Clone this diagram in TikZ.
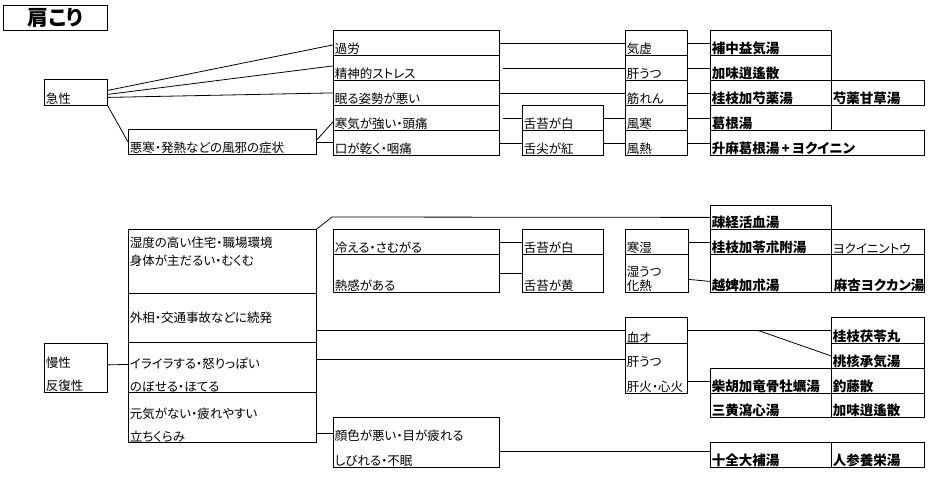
\documentclass[tikz,border=0pt]{standalone}
\usepackage{fontspec}
\setmainfont{Noto Sans CJK JP}[RawFeature=+palt]
\newcommand\nf{\fontsize{12.5}{18}\selectfont}
\newcommand\kf{\bfseries\fontsize{13.5}{18}\selectfont}

\begin{document}
\begin{tikzpicture}[x=1pt, y=-1pt, line width=0.8pt,
  cell/.style 2 args={draw, minimum width=#1, minimum height=#2, anchor=north west, inner sep=0pt},
  lab/.style={anchor=south west, inner xsep=1.5pt, inner ysep=0.5pt, font=\nf},
  rx/.style={lab, font=\kf},
  twolab/.style={lab, align=left, font=\fontsize{12.5}{#1}\selectfont}]
\useasboundingbox (0,0) rectangle (932,479);

\node[cell={104}{25}, font=\bfseries\fontsize{21}{21}\selectfont] (title) at (3,5) {肩こり};

% acute
\node[cell={63}{26}, label={[lab]south west:急性}] (kyusei) at (44,79) {};
\node[cell={188}{25}, label={[lab]south west:悪寒・発熱などの風邪の症状}] (akan) at (128,129) {};

\node[cell={166}{25}, label={[lab]south west:過労}] (karou) at (333,30) {};
\node[cell={166}{25}, label={[lab]south west:精神的ストレス}] (seishin) at (333,55) {};
\node[cell={166}{25}, label={[lab]south west:眠る姿勢が悪い}] (nemuru) at (333,80) {};
\node[cell={166}{25}, label={[lab]south west:寒気が強い・頭痛}] (kanki) at (333,105) {};
\node[cell={166}{25}, label={[lab]south west:口が乾く・咽痛}] (kuchi) at (333,130) {};

\node[cell={81}{25}, label={[lab]south west:舌苔が白}] (zettai) at (522,105) {};
\node[cell={81}{25}, label={[lab]south west:舌尖が紅}] (zetsen) at (522,130) {};

\node[cell={62}{25}, label={[lab]south west:気虚}] (kikyo) at (625,30) {};
\node[cell={62}{25}, label={[lab]south west:肝うつ}] (kanutsu) at (625,55) {};
\node[cell={62}{25}, label={[lab]south west:筋れん}] (kinren) at (625,80) {};
\node[cell={62}{25}, label={[lab]south west:風寒}] (fukan) at (625,105) {};
\node[cell={62}{25}, label={[lab]south west:風熱}] (funetsu) at (625,130) {};

\node[cell={121}{25}, label={[rx]south west:補中益気湯}] (hochu) at (710,30) {};
\node[cell={121}{25}, label={[rx]south west:加味逍遙散}] (kami) at (710,55) {};
\node[cell={121}{25}, label={[rx]south west:桂枝加芍薬湯}] (keishi) at (710,80) {};
\node[cell={121}{25}, label={[rx]south west:葛根湯}] (kakkon) at (710,105) {};
\node[cell={214}{25}, label={[rx]south west:升麻葛根湯\,+\,ヨクイニン}] (shoma) at (710,130) {};
\node[cell={93}{25}, label={[rx]south west:芍薬甘草湯}] (shakuyaku) at (831,80) {};

\draw ([yshift=2pt]kyusei.east) -- ([yshift=-2pt]karou.west);
\draw ([yshift=-2pt]kyusei.east) -- ([yshift=2pt]seishin.west);
\draw ([yshift=-5pt]kyusei.east) -- (nemuru.west);
\draw (kyusei.south east) -- (akan.west);
\draw ([yshift=2pt]akan.east) -- ([yshift=-4pt]kanki.west);
\draw (akan.east) -- (akan.east -| kuchi.west);
\draw (karou.east) -- (kikyo.west);
\draw ([xshift=3pt]seishin.east) -- (kanutsu.west);
\draw (nemuru.east) -- (kinren.west);
\draw ([xshift=3pt]kanki.east) -- (zettai.west);
\draw (kuchi.east) -- (zetsen.west);
\draw (zettai.east) -- (fukan.west);
\draw (zetsen.east) -- (funetsu.west);
\draw (kikyo.east) -- (hochu.west);
\draw (kanutsu.east) -- (kami.west);
\draw (kinren.east) -- (keishi.west);
\draw (fukan.east) -- (kakkon.west);
\draw (funetsu.east) -- (shoma.west);

% chronic
\node[cell={63}{49}, label={[twolab=23]south west:{慢性\\反復性}}] (mansei) at (44,343) {};
\node[cell={188}{64}, label={[twolab=18, anchor=north west, inner ysep=8pt]north west:{湿度の高い住宅・職場環境\\身体が主だるい・むくむ}}] (shitsudo) at (128,229) {};
\node[cell={188}{49}, label={[lab, anchor=west]west:外相・交通事故などに続発}] (gaisho) at (128,293) {};
\node[cell={188}{50}, label={[twolab=23]south west:{イライラする・怒りっぽい\\のぼせる・ほてる}}] (iraira) at (128,342) {};
\node[cell={188}{50}, label={[twolab=23]south west:{元気がない・疲れやすい\\立ちくらみ}}] (genki) at (128,392) {};

\node[cell={166}{25}, label={[lab]south west:冷える・さむがる}] (hieru) at (333,229) {};
\node[cell={166}{38}, label={[lab]south west:熱感がある}] (nekkan) at (333,254) {};
\node[cell={166}{50}, label={[twolab=25]south west:{顔色が悪い・目が疲れる\\しびれる・不眠}}] (ganshoku) at (333,417) {};

\node[cell={81}{25}, label={[lab]south west:舌苔が白}] (zettaihaku) at (522,229) {};
\node[cell={81}{38}, label={[lab]south west:舌苔が黄}] (zettaiko) at (522,254) {};

\node[cell={63}{25}, label={[lab]south west:寒湿}] (kanshitsu) at (625,229) {};
\node[cell={63}{38}, label={[twolab=14]south west:{湿うつ\\化熱}}] (shitsuutsu) at (625,254) {};
\node[cell={62}{26}, label={[lab]south west:血オ}] (ketsuo) at (625,317) {};
\node[cell={62}{50}, label={[twolab=25]south west:{肝うつ\\肝火・心火}}] (kanutsuka) at (625,343) {};

\node[cell={121}{24}, label={[rx]south west:疎経活血湯}] (sokei) at (710,205) {};
\node[cell={121}{25}, label={[rx]south west:桂枝加苓朮附湯}] (keishiryo) at (710,229) {};
\node[cell={121}{38}, label={[rx]south west:越婢加朮湯}] (eppi) at (710,254) {};
\node[cell={93}{25}, label={[lab]south west:ヨクイニントウ}] (yokui) at (831,229) {};
\node[cell={93}{38}, label={[rx, xshift=1pt]south west:麻杏ヨクカン湯}] (makyo) at (831,254) {};

\node[cell={93}{26}, label={[rx]south west:桂枝茯苓丸}] (keishibuku) at (831,317) {};
\node[cell={93}{25}, label={[rx]south west:桃核承気湯}] (tokaku) at (831,343) {};
\node[cell={121}{25}, label={[rx]south west:柴胡加竜骨牡蠣湯}] (saiko) at (710,368) {};
\node[cell={93}{25}, label={[rx]south west:釣藤散}] (choto) at (831,368) {};
\node[cell={121}{24}, label={[rx]south west:三黄瀉心湯}] (sanou) at (710,393) {};
\node[cell={93}{24}, label={[rx]south west:加味逍遙散}] (kamisho) at (831,393) {};
\node[cell={121}{25}, label={[rx]south west:十全大補湯}] (juzen) at (710,442) {};
\node[cell={93}{25}, label={[rx]south west:人参養栄湯}] (ninjin) at (831,442) {};

\draw (shitsudo.north east) -- (332,217) -- (sokei.west);
\draw (hieru.east) -- (zettaihaku.west);
\draw (nekkan.east) -- (zettaiko.west);
\draw (kanshitsu.east) -- (keishiryo.west);
\draw ([yshift=-6pt]shitsuutsu.east) -- ([yshift=-8pt]eppi.west);
\draw (gaisho.east |- ketsuo.west) -- (ketsuo.west);
\draw ([yshift=8pt]iraira.east) -- ([yshift=9pt]kanutsuka.west);
\draw (ketsuo.east) -- coordinate[pos=0.49] (split) (keishibuku.west);
\draw (split) -- (tokaku.west);
\draw (kanutsuka.east |- saiko.west) -- (saiko.west);
\draw ([yshift=3pt]mansei.east) -- ([yshift=3pt]iraira.west);
\draw ([yshift=-16pt]genki.east) -- ([yshift=9pt]ganshoku.west);
\draw ([yshift=-9pt]ganshoku.east) -- ([yshift=3.5pt]juzen.west);
\end{tikzpicture}
\end{document}
